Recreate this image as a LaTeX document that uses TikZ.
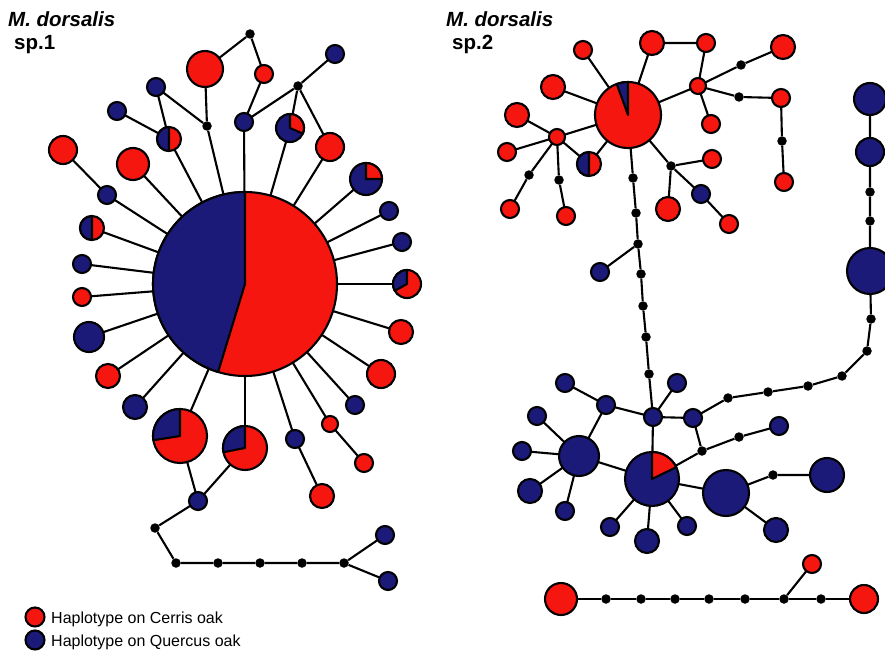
\documentclass[tikz,border=0pt]{standalone}
\usepackage{fontspec}
\setmainfont{Liberation Sans}
\definecolor{cred}{RGB}{245,22,15}
\definecolor{cblue}{RGB}{28,26,120}
\tikzset{
 hap/.style={circle, draw=black, line width=2.1pt, inner sep=0pt, outer sep=0pt},
 rh/.style={hap, fill=cred, minimum size=#1},
 bh/.style={hap, fill=cblue, minimum size=#1},
 dotn/.style={circle, fill=black, inner sep=0pt, minimum size=9.5pt},
 edge/.style={line width=2.1pt},
 wedgest/.style={line width=2.1pt, line join=round},
 ttl/.style={anchor=base west, inner sep=0pt, font=\fontsize{20.5}{24}\selectfont\bfseries},
 lgt/.style={anchor=base west, inner sep=0pt, font=\fontsize{16}{19}\selectfont},
}
\newcommand\pieW[5]{\filldraw[wedgest, fill=#5] (#1.center) -- ++(#2:#4) arc[start angle=#2, end angle=#3, radius=#4] -- cycle;}
\begin{document}
\begin{tikzpicture}[x=1pt,y=-1pt]
\useasboundingbox (0,0) rectangle (885,650);
% titles
\node[ttl, font=\fontsize{20.5}{24}\selectfont\bfseries\itshape] (t1) at (8,27) {M. dorsalis};
\node[ttl] (t1b) at (14,50) {sp.1};
\node[ttl, font=\fontsize{20.5}{24}\selectfont\bfseries\itshape] (t2) at (446,27) {M. dorsalis};
\node[ttl] (t2b) at (452,50) {sp.2};
% ---------- left network ----------
\node[rh=184pt] (Lc) at (245,284) {};
\node[bh=18pt] (L1) at (244,122) {};
\node[rh=18pt] (L2) at (264,74) {};
\node[dotn] (Ld1) at (250,34) {};
\node[rh=36pt] (L3) at (205,69) {};
\node[dotn] (Ld2) at (298,86) {};
\node[bh=18pt] (L4) at (335,54) {};
\node[bh=28pt] (L5) at (290,128) {};
\node[rh=28pt] (L6) at (330,147) {};
\node[bh=32pt] (L7) at (366,179) {};
\node[bh=18pt] (L8) at (389,211) {};
\node[bh=18pt] (L9) at (402,242) {};
\node[rh=28pt] (L10) at (407,284) {};
\node[rh=24pt] (L11) at (401,332) {};
\node[rh=28pt] (L12) at (381,374) {};
\node[bh=18pt] (L13) at (355,405) {};
\node[rh=16pt] (L14) at (330,424) {};
\node[rh=18pt] (L15) at (364,463) {};
\node[bh=18pt] (L16) at (295,439) {};
\node[rh=24pt] (L17) at (322,496) {};
\node[rh=44pt] (L18) at (245,448) {};
\node[rh=54pt] (L19) at (180,436) {};
\node[bh=24pt] (L20) at (135,407) {};
\node[rh=24pt] (L21) at (108,376) {};
\node[bh=30pt] (L22) at (89,337) {};
\node[rh=18pt] (L23) at (82,297) {};
\node[bh=18pt] (L24) at (82,264) {};
\node[rh=24pt] (L25) at (92,228) {};
\node[bh=18pt] (L26) at (107,195) {};
\node[rh=28pt] (L27) at (63,150) {};
\node[rh=32pt] (L28) at (133,164) {};
\node[rh=24pt] (L29) at (169,139) {};
\node[bh=18pt] (L30) at (117,111) {};
\node[bh=18pt] (L31) at (156,87) {};
\node[dotn] (Ld3) at (207,126) {};
\node[bh=18pt] (L32) at (198,501) {};
\node[dotn] (Ld4) at (155,528) {};
\node[dotn] (Ld5) at (176,563) {};
\node[dotn] (Ld6) at (218,563) {};
\node[dotn] (Ld7) at (260,563) {};
\node[dotn] (Ld8) at (302,563) {};
\node[dotn] (Ld9) at (344,563) {};
\node[bh=18pt] (L33) at (385,535) {};
\node[bh=18pt] (L34) at (388,581) {};
% pie wedges left
\pieW{Lc}{90}{253}{92pt}{cblue}
\pieW{L5}{90}{-24}{14pt}{cred}
\pieW{L7}{90}{0}{16pt}{cred}
\pieW{L10}{90}{209}{14pt}{cblue}
\pieW{L18}{90}{191}{22pt}{cblue}
\pieW{L19}{90}{189}{27pt}{cblue}
\pieW{L25}{90}{270}{12pt}{cblue}
\pieW{L29}{90}{270}{12pt}{cblue}
% edges left
\draw[edge] (Lc) -- (L1) -- (L2) -- (Ld1) -- (L3);
\draw[edge] (L1) -- (Ld2) -- (L4);
\draw[edge] (Ld2) -- (L5) -- (Lc);
\draw[edge] (Ld2) -- (L6) -- (Lc);
\foreach \n in {L7,L8,L9,L10,L11,L12,L13,L14,L16,L18,L19,L20,L21,L22,L23,L24,L25,L26,L28,L29}
  \draw[edge] (\n) -- (Lc);
\draw[edge] (L14) -- (L15);
\draw[edge] (L16) -- (L17);
\draw[edge] (L26) -- (L27);
\draw[edge] (L29) -- (L30);
\draw[edge] (L29) -- (L31) -- (Ld3) -- (L3);
\draw[edge] (Ld3) -- (Lc);
\draw[edge] (L18) -- (L32) -- (L19);
\draw[edge] (L32) -- (Ld4) -- (Ld5) -- (Ld6) -- (Ld7) -- (Ld8) -- (Ld9) -- (L33);
\draw[edge] (Ld9) -- (L34);
% ---------- right network ----------
\node[rh=66pt] (Rc) at (628,115) {};
\node[rh=18pt] (R1) at (583,50) {};
\node[rh=24pt] (R2) at (652,43) {};
\node[rh=18pt] (R3) at (706,43) {};
\node[rh=16pt] (R4) at (698,86) {};
\node[dotn] (Rd1) at (741,65) {};
\node[rh=24pt] (R5) at (783,47) {};
\node[dotn] (Rd2) at (739,97) {};
\node[rh=18pt] (R6) at (781,98) {};
\node[dotn] (Rd3) at (782,141) {};
\node[rh=18pt] (R7) at (784,182) {};
\node[rh=18pt] (R8) at (711,124) {};
\node[rh=24pt] (R9) at (553,87) {};
\node[rh=24pt] (R10) at (517,115) {};
\node[rh=16pt] (R11) at (557,137) {};
\node[rh=18pt] (R12) at (507,152) {};
\node[dotn] (Rd4) at (529,175) {};
\node[rh=18pt] (R13) at (510,209) {};
\node[dotn] (Rd5) at (559,180) {};
\node[rh=18pt] (R14) at (566,216) {};
\node[rh=24pt] (R15) at (589,164) {};
\node[dotn] (Rd6) at (671,166) {};
\node[rh=18pt] (R16) at (712,159) {};
\node[rh=24pt] (R17) at (668,209) {};
\node[bh=18pt] (R18) at (701,194) {};
\node[rh=18pt] (R19) at (729,224) {};
\node[dotn] (Rd7) at (633,178) {};
\node[dotn] (Rd8) at (636,213) {};
\node[dotn] (Rd9) at (638,244) {};
\node[dotn] (Rd10) at (641,274) {};
\node[dotn] (Rd11) at (643,306) {};
\node[dotn] (Rd12) at (646,337) {};
\node[dotn] (Rd13) at (649,374) {};
\node[bh=18pt] (R20) at (600,272) {};
\node[bh=18pt] (R21) at (653,417) {};
\node[bh=18pt] (R22) at (606,405) {};
\node[bh=18pt] (R23) at (565,383) {};
\node[bh=18pt] (R24) at (677,383) {};
\node[bh=18pt] (R25) at (693,418) {};
\node[bh=40pt] (R26) at (579,456) {};
\node[bh=18pt] (R27) at (522,451) {};
\node[bh=18pt] (R28) at (537,416) {};
\node[bh=24pt] (R29) at (530,491) {};
\node[bh=18pt] (R30) at (565,511) {};
\node[bh=54pt] (R31) at (652,479) {};
\node[bh=18pt] (R32) at (610,527) {};
\node[bh=24pt] (R33) at (647,541) {};
\node[bh=18pt] (R34) at (687,526) {};
\node[bh=46pt] (R35) at (726,493) {};
\node[dotn] (Rd14) at (773,475) {};
\node[bh=34pt] (R36) at (827,475) {};
\node[bh=24pt] (R37) at (776,530) {};
\node[dotn] (Rd15) at (702,451) {};
\node[dotn] (Rd16) at (739,437) {};
\node[bh=18pt] (R38) at (779,426) {};
\node[dotn] (Rd17) at (728,398) {};
\node[dotn] (Rd18) at (768,392) {};
\node[dotn] (Rd19) at (808,386) {};
\node[dotn] (Rd20) at (842,376) {};
\node[dotn] (Rd21) at (867,351) {};
\node[dotn] (Rd22) at (871,319) {};
\node[bh=46pt] (R39) at (870,271) {};
\node[dotn] (Rd23) at (870,221) {};
\node[dotn] (Rd24) at (870,192) {};
\node[bh=28pt] (R40) at (870,152) {};
\node[bh=32pt] (R41) at (870,99) {};
\node[rh=32pt] (Rb1) at (561,599) {};
\node[dotn] (Rd25) at (606,599) {};
\node[dotn] (Rd26) at (641,599) {};
\node[dotn] (Rd27) at (675,599) {};
\node[dotn] (Rd28) at (709,599) {};
\node[dotn] (Rd29) at (745,599) {};
\node[dotn] (Rd30) at (784,599) {};
\node[dotn] (Rd31) at (821,599) {};
\node[rh=28pt] (Rb2) at (864,599) {};
\node[rh=18pt] (Rb3) at (812,564) {};
% pie wedges right
\pieW{Rc}{90}{110}{33pt}{cblue}
\pieW{R15}{90}{270}{12pt}{cblue}
\pieW{R31}{90}{26}{27pt}{cred}
% edges right
\draw[edge] (Rc) -- (R1);
\draw[edge] (Rc) -- (R2) -- (R3) -- (R4) -- (Rc);
\draw[edge] (R4) -- (Rd1) -- (R5);
\draw[edge] (R4) -- (Rd2) -- (R6) -- (Rd3) -- (R7);
\draw[edge] (R4) -- (R8);
\draw[edge] (R9) -- (Rc);
\draw[edge] (R10) -- (R11) -- (Rc);
\draw[edge] (R11) -- (R12);
\draw[edge] (R11) -- (Rd4) -- (R13);
\draw[edge] (R11) -- (Rd5) -- (R14);
\draw[edge] (R11) -- (R15) -- (Rc);
\draw[edge] (Rc) -- (Rd6) -- (R16);
\draw[edge] (Rd6) -- (R17);
\draw[edge] (Rd6) -- (R18) -- (R19);
\draw[edge] (Rc) -- (Rd7) -- (Rd8) -- (Rd9) -- (R20);
\draw[edge] (Rd9) -- (Rd10) -- (Rd11) -- (Rd12) -- (Rd13) -- (R21);
\draw[edge] (R21) -- (R22) -- (R23);
\draw[edge] (R21) -- (R24);
\draw[edge] (R21) -- (R25);
\draw[edge] (R21) -- (R31);
\draw[edge] (R22) -- (R26);
\foreach \n in {R27,R28,R29,R30,R31} \draw[edge] (R26) -- (\n);
\foreach \n in {R32,R33,R34,R35} \draw[edge] (R31) -- (\n);
\draw[edge] (R25) -- (Rd15) -- (R31);
\draw[edge] (Rd15) -- (Rd16) -- (R38);
\draw[edge] (R25) -- (Rd17) -- (Rd18) -- (Rd19) -- (Rd20) -- (Rd21) -- (Rd22) -- (R39) -- (Rd23) -- (Rd24) -- (R40) -- (R41);
\draw[edge] (R35) -- (Rd14) -- (R36);
\draw[edge] (R35) -- (R37);
\draw[edge] (Rb1) -- (Rd25) -- (Rd26) -- (Rd27) -- (Rd28) -- (Rd29) -- (Rd30) -- (Rd31) -- (Rb2);
\draw[edge] (Rd30) -- (Rb3);
% legend
\node[rh=19pt] (lg1) at (35,617) {};
\node[bh=19pt] (lg2) at (35,640) {};
\node[lgt] (lt1) at (51,623) {Haplotype on Cerris oak};
\node[lgt] (lt2) at (51,646) {Haplotype on Quercus oak};
\end{tikzpicture}
\end{document}
